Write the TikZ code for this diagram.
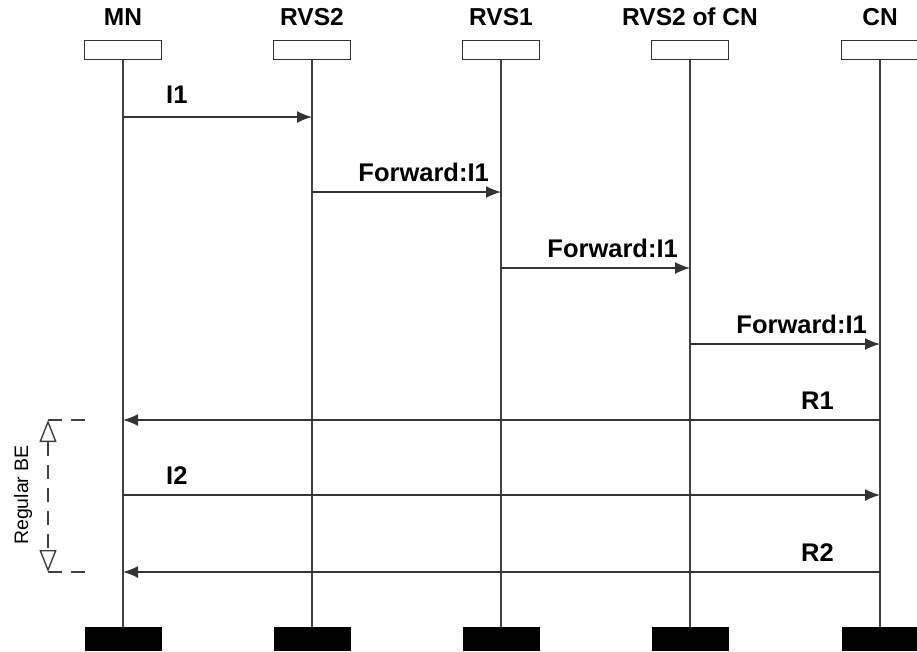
\documentclass[tikz,border=0pt]{standalone}
\usepackage{fontspec}
\setmainfont{Liberation Sans}
\usetikzlibrary{arrows.meta}
\begin{document}
\begin{tikzpicture}[x=1pt,y=-1pt,
  title/.style={font=\fontsize{24.5}{28}\selectfont\bfseries, inner sep=0pt, anchor=base},
  lbl/.style={font=\fontsize{25.5}{28}\selectfont\bfseries, inner sep=0pt},
  headbox/.style={draw=black!80, line width=1.4pt, fill=white, minimum width=77pt, minimum height=19pt, inner sep=0pt, anchor=north},
  endbox/.style={fill=black, minimum width=77pt, minimum height=24pt, inner sep=0pt, anchor=north},
  lifeline/.style={draw=black!75, line width=1.7pt},
  msg/.style={draw=black!80, line width=1.5pt, -{Latex[length=15pt,width=12pt]}},
  bracket/.style={draw=black!75, line width=1.4pt, dash pattern=on 14pt off 9pt},
  period/.style={draw=black!75, line width=1.4pt, dash pattern=on 14pt off 9pt,
    {Triangle[open,length=22pt,width=17pt,line width=1.4pt]}-{Triangle[open,length=22pt,width=17pt,line width=1.4pt]}}
]
\useasboundingbox (0,0) rectangle (917,651);

% participants
\foreach \n/\x/\t in {mn/123/MN, rvsa/312/RVS2, rvsb/501/RVS1, rvsc/690/RVS2 of CN, cn/880/CN}{
  \node[title] (\n-t) at (\x,25) {\t};
  \node[headbox] (\n-h) at (\x,40) {};
  \node[endbox] (\n-e) at (\x,627) {};
  \draw[lifeline] (\n-h.south) -- (\n-e.north);
}

% message end points on the lifelines
\coordinate (m1a) at (123,117); \coordinate (m1b) at (312,117);
\coordinate (m2a) at (312,192); \coordinate (m2b) at (501,192);
\coordinate (m3a) at (501,268); \coordinate (m3b) at (690,268);
\coordinate (m4a) at (690,344); \coordinate (m4b) at (880,344);
\coordinate (m5a) at (880,420); \coordinate (m5b) at (123,420);
\coordinate (m6a) at (123,495); \coordinate (m6b) at (880,495);
\coordinate (m7a) at (880,572); \coordinate (m7b) at (123,572);

\draw[msg] (m1a) -- (m1b);
\draw[msg] (m2a) -- (m2b);
\draw[msg] (m3a) -- (m3b);
\draw[msg] (m4a) -- (m4b);
\draw[msg] (m5a) -- (m5b);
\draw[msg] (m6a) -- (m6b);
\draw[msg] (m7a) -- (m7b);

% message labels
\node[lbl, anchor=base west] (l1) at (166,103) {I1};
\node[lbl, anchor=base east] (l2) at (489,181) {Forward:I1};
\node[lbl, anchor=base east] (l3) at (678,257) {Forward:I1};
\node[lbl, anchor=base east] (l4) at (867,333) {Forward:I1};
\node[lbl, anchor=base east] (l5) at (834,409) {R1};
\node[lbl, anchor=base west] (l6) at (166,484) {I2};
\node[lbl, anchor=base east] (l7) at (834,561) {R2};

% period marker on the left
\coordinate (be1) at (48,420); \coordinate (be1r) at (88,420);
\coordinate (be2) at (48,572); \coordinate (be2r) at (88,572);
\draw[bracket] (be1) -- (be1r);
\draw[bracket] (be2) -- (be2r);
\draw[period] (be1) -- (be2);
\node[font=\fontsize{19.5}{22}\selectfont, rotate=90, inner sep=0pt] (be) at (23,495) {Regular BE};
\end{tikzpicture}
\end{document}
